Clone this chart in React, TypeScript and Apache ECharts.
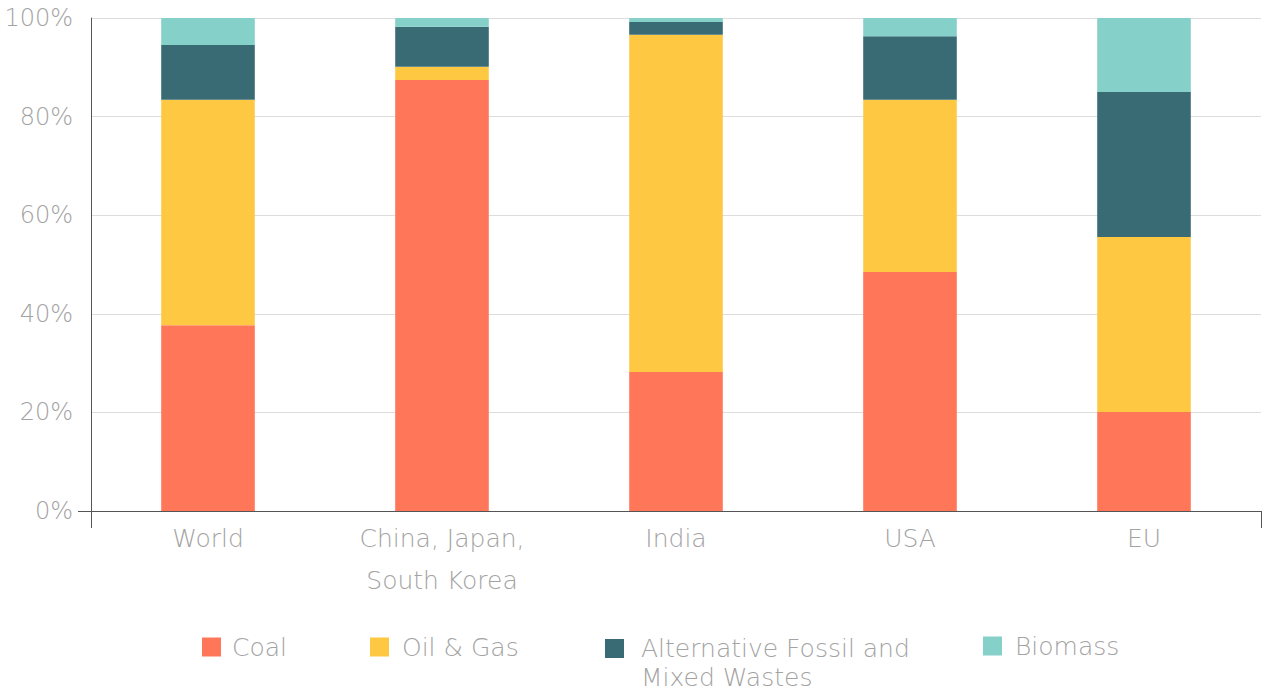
import React, { useEffect, useRef } from "react";
import * as echarts from "echarts";

const categories = ["World", "China, Japan,\nSouth Korea", "India", "USA", "EU"];
const coal = [37.7, 87.4, 28.2, 48.5, 20.1];
const oilGas = [45.7, 2.7, 68.4, 34.9, 35.5];
const altFossil = [11.1, 8.1, 2.6, 12.9, 29.4];
const biomass = [5.5, 1.8, 0.8, 3.7, 15.0];
const yTicks = [0, 20, 40, 60, 80, 100];

const seriesNames = ["Coal", "Oil & Gas", "Alternative Fossil and Mixed Wastes", "Biomass"];
const legendLabels = ["Coal", "Oil & Gas", "\nAlternative Fossil and\nMixed Wastes", "Biomass"];
const colors = ["#FF7659", "#FEC843", "#386B74", "#85D1CA"];

const FONT = "'DejaVu Sans'";
const WEIGHT = 200;
const TEXT_COLOR = "#a3a3a3";
const AXIS_COLOR = "#555555";

const GRID_LEFT = 91;
const GRID_TOP = 18;
const GRID_RIGHT = 4;
const GRID_BOTTOM = 182;
const W = 1265;
const H = 693;

export default function App() {
  const ref = useRef<HTMLDivElement>(null);
  useEffect(() => {
    if (!ref.current) return;
    const chart = echarts.init(ref.current, null, { renderer: "svg" });
    const data = [coal, oilGas, altFossil, biomass];
    const legendPos = [
      { left: 202, top: 631, pad: [0, 0, 0, 6], lh: 32 },
      { left: 370, top: 631, pad: [0, 0, 0, 8], lh: 32 },
      { left: 605, top: 605, pad: [0, 0, 0, 12], lh: 29 },
      { left: 983, top: 630, pad: [0, 0, 0, 8], lh: 32 },
    ];
    const legends = seriesNames.map((name, i) => ({
      show: true,
      data: [name],
      left: legendPos[i].left,
      top: legendPos[i].top,
      padding: 0,
      itemWidth: 19,
      itemHeight: 19,
      itemGap: 0,
      icon: "rect",
      selectedMode: false,
      formatter: () => legendLabels[i],
      textStyle: {
        fontFamily: FONT,
        fontWeight: WEIGHT,
        fontSize: 25,
        color: TEXT_COLOR,
        padding: legendPos[i].pad,
        lineHeight: legendPos[i].lh,
      },
    }));
    chart.setOption({
      animation: false,
      backgroundColor: "#ffffff",
      color: colors,
      grid: { left: GRID_LEFT, top: GRID_TOP, right: GRID_RIGHT, bottom: GRID_BOTTOM, containLabel: false },
      legend: legends,
      xAxis: {
        type: "category",
        data: categories,
        axisLine: { show: true, lineStyle: { color: AXIS_COLOR, width: 1 } },
        axisTick: { show: true, length: 17, interval: (i: number) => i === 0, lineStyle: { color: AXIS_COLOR } },
        axisLabel: {
          interval: 0,
          margin: 6,
          fontFamily: FONT,
          fontWeight: WEIGHT,
          fontSize: 25,
          lineHeight: 42,
          color: TEXT_COLOR,
        },
      },
      yAxis: {
        type: "value",
        min: 0,
        max: 100,
        interval: 20,
        axisLine: { show: true, lineStyle: { color: AXIS_COLOR, width: 1 } },
        axisTick: { show: false },
        splitLine: { show: true, lineStyle: { color: "#dddddd", width: 1 } },
        axisLabel: {
          margin: 18,
          fontFamily: FONT,
          fontWeight: WEIGHT,
          fontSize: 24,
          color: TEXT_COLOR,
          formatter: (v: number) => (yTicks.includes(v) ? `${v}%` : ""),
        },
      },
      graphic: [
        {
          type: "line",
          shape: { x1: GRID_LEFT - 13, y1: H - GRID_BOTTOM + 0.5, x2: GRID_LEFT, y2: H - GRID_BOTTOM + 0.5 },
          style: { stroke: AXIS_COLOR, lineWidth: 1 },
          z: 10,
        },
      ],
      series: data.map((d, i) => ({
        name: seriesNames[i],
        type: "bar",
        stack: "total",
        barWidth: "40%",
        data: d,
        itemStyle: { color: colors[i] },
      })),
    });
    return () => chart.dispose();
  }, []);
  return (
    <div
      ref={ref}
      style={{ position: "absolute", left: 0, top: 0, width: W, height: H, background: "#fff" }}
    />
  );
}
